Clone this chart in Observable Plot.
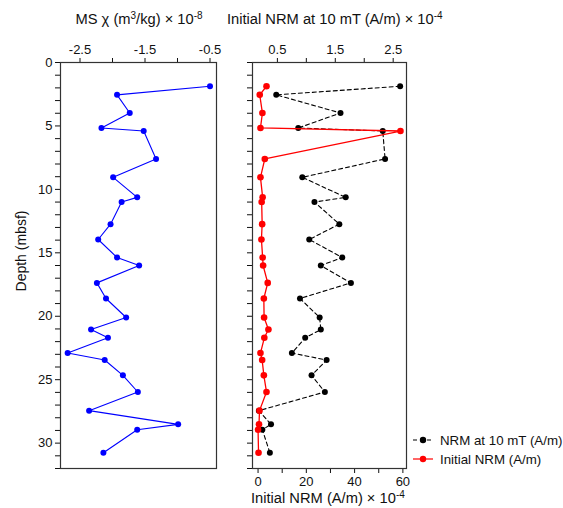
<!DOCTYPE html>
<html>
<head>
<meta charset="utf-8">
<script src="https://cdn.jsdelivr.net/npm/d3@7"></script>
<script src="https://cdn.jsdelivr.net/npm/@observablehq/plot@0.6"></script>
<style>
  body { margin: 0; background: #fff; }
  #wrap { position: relative; width: 563px; height: 508px; font-family: "Liberation Sans", Arial, sans-serif; color: #111; }
  #wrap svg { position: absolute; left: 0; top: 0; }
  .t { position: absolute; white-space: nowrap; font-size: 14.7px; line-height: 16px; }
  .t sup { font-size: 0.68em; vertical-align: 0; position: relative; top: -0.5em; }
  .t.y { font-size: 14px; }
</style>
</head>
<body>
<div id="wrap"></div>
<script>
// Depth of samples (mbsf)
const depth = [1.87, 2.55, 3.98, 5.16, 5.4, 7.6, 9.05, 10.63, 11.0, 12.74, 13.95, 15.37, 16.0, 17.37, 18.6, 20.1, 21.05, 21.7, 22.9, 23.45, 24.66, 25.97, 27.44, 28.52, 28.94, 30.76];
// MS chi (m3/kg) x 1e-8
const msChi = [-0.50, -1.93, -1.735, -2.17, -1.52, -1.33, -1.99, -1.62, -1.86, -2.03, -2.22, -1.93, -1.59, -2.24, -2.10, -1.79, -2.33, -2.07, -2.69, -2.12, -1.84, -1.61, -2.36, -0.99, -1.62, -2.14];
// NRM at 10 mT (A/m) x 1e-4 (top axis)
const nrm10 = [2.62, 0.48, 1.59, 0.86, 2.32, 2.36, 0.93, 1.68, 1.14, 1.57, 1.05, 1.62, 1.25, 1.77, 0.89, 1.23, 1.25, 0.98, 0.75, 1.35, 1.09, 1.32, 0.18, 0.39, 0.24, 0.37];
// Initial NRM (A/m) x 1e-4 (bottom axis)
const nrmInit = [3.5, 0.7, 1.8, 1.0, 59.0, 2.8, 1.0, 1.9, 1.5, 1.7, 1.4, 1.9, 2.1, 4.0, 2.4, 2.5, 4.3, 2.6, 1.0, 1.7, 2.4, 3.5, 0.6, 0.4, 0.0, 0.2];

// tick values
const depthTicks = d3.range(0, 33, 1);
const depthLabels = [0, 5, 10, 15, 20, 25, 30];
const msTicks = [-2.5, -2.0, -1.5, -1.0, -0.5];
const msLabels = [-2.5, -1.5, -0.5];
const nrm10Ticks = [0.5, 1.0, 1.5, 2.0, 2.5];
const nrm10Labels = [0.5, 1.5, 2.5];
const initTicks = [0, 10, 20, 30, 40, 50, 60];
const initLabels = [0, 20, 40, 60];

const data = depth.map((d, i) => ({depth: d, ms: msChi[i], n10: nrm10[i], ni: nrmInit[i]}));

const W = 563, H = 508, mTop = 62, mBottom = 40;
const pstyle = {fontFamily: '"Liberation Sans", Arial, sans-serif', fontSize: "13px", background: "transparent", color: "#111", overflow: "visible"};
const yScale = {domain: [0, 32], reverse: true};

const wrap = document.getElementById("wrap");

// Left panel
const leftPlot = Plot.plot({
  width: W, height: H, marginLeft: 60, marginRight: 347, marginTop: mTop, marginBottom: mBottom,
  style: pstyle,
  x: {domain: [-2.8, -0.4]},
  y: yScale,
  marks: [
    Plot.axisX({anchor: "top", ticks: msTicks, tickSize: 5, tickPadding: 4, label: null,
      tickFormat: d => msLabels.includes(d) ? d.toFixed(1) : ""}),
    Plot.axisY({anchor: "left", ticks: depthTicks, tickSize: 5, tickPadding: 3, label: null,
      tickFormat: d => depthLabels.includes(d) ? String(d) : ""}),
    Plot.line(data, {x: "ms", y: "depth", stroke: "#0000ff", strokeWidth: 1.1}),
    Plot.dot(data, {x: "ms", y: "depth", fill: "#0000ff", r: 3}),
    Plot.frame({stroke: "#333", strokeWidth: 1.2})
  ]
});

// Right panel: NRM at 10 mT (top axis)
const rightTopPlot = Plot.plot({
  width: W, height: H, marginLeft: 252, marginRight: 157, marginTop: mTop, marginBottom: mBottom,
  style: pstyle,
  x: {domain: [0.07, 2.73]},
  y: {...yScale, axis: null},
  marks: [
    Plot.axisX({anchor: "top", ticks: nrm10Ticks, tickSize: 5, tickPadding: 4, label: null,
      tickFormat: d => nrm10Labels.includes(d) ? d.toFixed(1) : ""}),
    Plot.line(data, {x: "n10", y: "depth", stroke: "#000", strokeWidth: 1.1, strokeDasharray: "4,3"}),
    Plot.dot(data, {x: "n10", y: "depth", fill: "#000", r: 3})
  ]
});

// Right panel: Initial NRM (bottom axis)
const rightBottomPlot = Plot.plot({
  width: W, height: H, marginLeft: 252, marginRight: 157, marginTop: mTop, marginBottom: mBottom,
  style: pstyle,
  x: {domain: [-2.3, 61.5]},
  y: yScale,
  marks: [
    Plot.axisX({anchor: "bottom", ticks: initTicks, tickSize: 5, tickPadding: 3, label: null,
      tickFormat: d => initLabels.includes(d) ? String(d) : ""}),
    Plot.axisY({anchor: "left", ticks: depthTicks, tickSize: 5, label: null, tickFormat: () => ""}),
    Plot.line(data, {x: "ni", y: "depth", stroke: "#ff0000", strokeWidth: 1.3}),
    Plot.dot(data, {x: "ni", y: "depth", fill: "#ff0000", r: 3.3}),
    Plot.frame({stroke: "#333", strokeWidth: 1.2})
  ]
});

wrap.appendChild(leftPlot);
wrap.appendChild(rightTopPlot);
wrap.appendChild(rightBottomPlot);

// Legend
const legendItems = [
  {label: "NRM at 10 mT (A/m)", color: "#000", dash: "4,3"},
  {label: "Initial NRM (A/m)", color: "#ff0000", dash: null}
];
const lg = d3.create("svg").attr("width", W).attr("height", H);
legendItems.forEach((it, i) => {
  const y = 440 + i * 19;
  lg.append("line").attr("x1", 413).attr("x2", 433).attr("y1", y).attr("y2", y)
    .attr("stroke", it.color).attr("stroke-width", 1.2).attr("stroke-dasharray", it.dash);
  lg.append("circle").attr("cx", 423).attr("cy", y).attr("r", 3.2).attr("fill", it.color);
  lg.append("text").attr("x", 440).attr("y", y).attr("dy", "0.35em")
    .attr("font-family", '"Liberation Sans", Arial, sans-serif').attr("font-size", 13.3).attr("fill", "#111").text(it.label);
});
wrap.appendChild(lg.node());

// Titles
function addText(html, x, y, rotate) {
  const el = document.createElement("div");
  el.className = rotate ? "t y" : "t";
  el.innerHTML = html;
  wrap.appendChild(el);
  const w = el.offsetWidth, h = el.offsetHeight;
  el.style.left = (x - w / 2) + "px";
  el.style.top = (y - h / 2) + "px";
  if (rotate) el.style.transform = "rotate(-90deg)";
}
addText("MS χ (m<sup>3</sup>/kg) × 10<sup>-8</sup>", 139, 20);
addText("Initial NRM at 10 mT (A/m) × 10<sup>-4</sup>", 335, 20);
addText("Initial NRM (A/m) × 10<sup>-4</sup>", 328, 499);
addText("Depth (mbsf)", 21, 251, true);
</script>
</body>
</html>
